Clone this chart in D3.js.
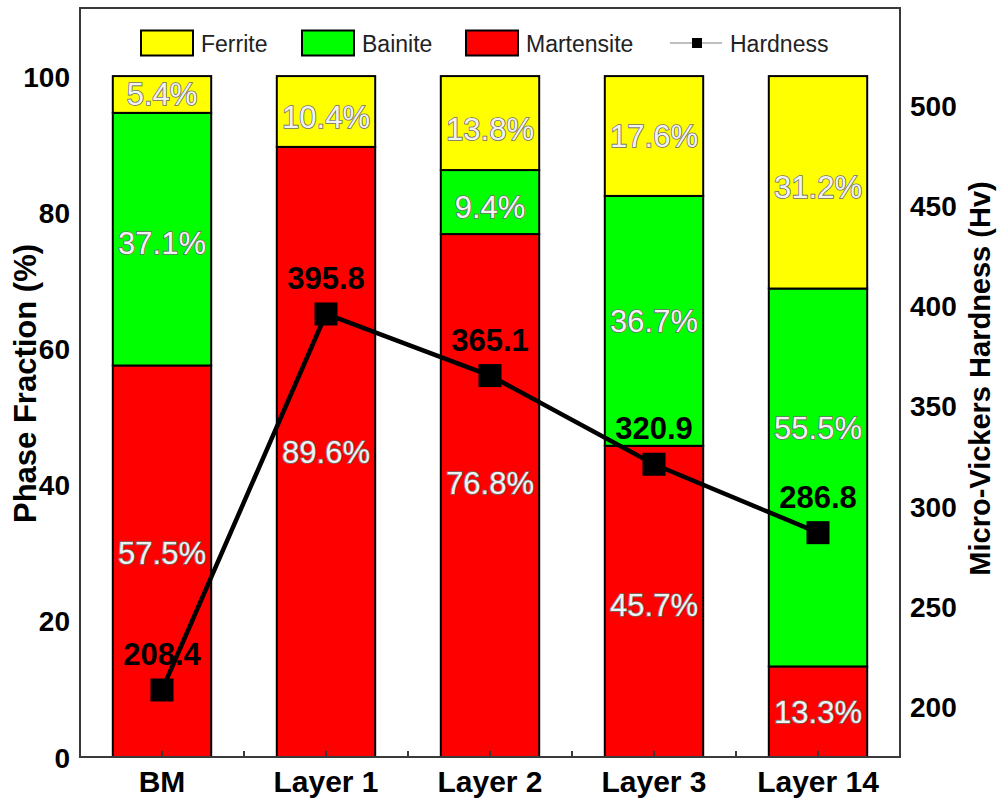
<!DOCTYPE html>
<html>
<head>
<meta charset="utf-8">
<script src="https://cdn.jsdelivr.net/npm/d3@7"></script>
<style>
  html, body { margin: 0; padding: 0; background: #fff; }
  svg { display: block; font-family: "Liberation Sans", Arial, sans-serif; }
</style>
</head>
<body>
<svg id="chart" width="1000" height="804"></svg>
<script>
// Samples and their phase fractions (%)
const categories = ["BM", "Layer 1", "Layer 2", "Layer 3", "Layer 14"];
const martensite = [57.5, 89.6, 76.8, 45.7, 13.3];
const bainite    = [37.1, 0.0, 9.4, 36.7, 55.5];
const ferrite    = [5.4, 10.4, 13.8, 17.6, 31.2];
// Micro-Vickers hardness (Hv)
const hardness   = [208.4, 395.8, 365.1, 320.9, 286.8];

const leftTicks  = [0, 20, 40, 60, 80, 100];
const rightTicks = [200, 250, 300, 350, 400, 450, 500];

const phases = [
  { key: "Martensite", values: martensite, color: "#ff0000" },
  { key: "Bainite",    values: bainite,    color: "#00ff00" },
  { key: "Ferrite",    values: ferrite,    color: "#ffff00" }
];

const svg = d3.select("#chart");
const m = { left: 80, right: 100, top: 8, bottom: 47 };
const W = 1000, H = 804;
const x0 = m.left, x1 = W - m.right, y0 = H - m.bottom, y1 = m.top;

const x = d3.scaleBand().domain(categories).range([x0, x1]).paddingInner(0.4).paddingOuter(0.2);
const yL = d3.scaleLinear().domain([0, 110]).range([y0, y1]);
const yR = d3.scaleLinear().domain([175, 548.3]).range([y0, y1]);

// stacked bars
const rows = categories.map((c, i) => {
  const r = { cat: c };
  phases.forEach(p => r[p.key] = p.values[i]);
  return r;
});
const stack = d3.stack().keys(phases.map(p => p.key))(rows);

const gBars = svg.append("g");
stack.forEach((layer, li) => {
  const ph = phases[li];
  layer.forEach(seg => {
    const v = seg[1] - seg[0];
    if (v <= 0) return;
    const cx = x(seg.data.cat);
    gBars.append("rect")
      .attr("x", cx).attr("width", x.bandwidth())
      .attr("y", yL(seg[1])).attr("height", yL(seg[0]) - yL(seg[1]))
      .attr("fill", ph.color).attr("stroke", "#000").attr("stroke-width", 2);
  });
});

// percentage labels, near the middle of each segment; a few are nudged
// (pixels) so they stay clear of the hardness line and its labels
const labelNudge = {
  "BM|Bainite": 4, "BM|Martensite": -8,
  "Layer 1|Ferrite": 6,
  "Layer 2|Ferrite": 6, "Layer 2|Bainite": 5, "Layer 2|Martensite": -13,
  "Layer 3|Martensite": 4,
  "Layer 14|Ferrite": 5, "Layer 14|Bainite": -49
};
const gPct = svg.append("g");
stack.forEach((layer, li) => {
  layer.forEach(seg => {
    const v = seg[1] - seg[0];
    if (v <= 0) return;
    const mid = (yL(seg[0]) + yL(seg[1])) / 2;
    const nudge = labelNudge[seg.data.cat + "|" + layer.key] || 0;
    gPct.append("text")
      .attr("x", x(seg.data.cat) + x.bandwidth() / 2)
      .attr("y", mid + nudge + 11)
      .attr("text-anchor", "middle")
      .attr("font-size", 31)
      .attr("fill", "#f2f2f2")
      .attr("stroke", "#6e6e6e")
      .attr("stroke-width", 1.6)
      .attr("paint-order", "stroke")
      .text(v.toFixed(1) + "%");
  });
});

// plot frame
svg.append("rect")
  .attr("x", x0).attr("y", y1).attr("width", x1 - x0).attr("height", y0 - y1)
  .attr("fill", "none").attr("stroke", "#3a3a3a").attr("stroke-width", 2);

// bottom ticks (inward), at centres and between bands
const tickXs = [];
categories.forEach(c => {
  tickXs.push(x(c) + x.bandwidth() / 2);
});
for (let i = 1; i < categories.length; i++) {
  tickXs.push((x(categories[i - 1]) + x(categories[i]) + x.bandwidth()) / 2);
}
svg.append("g").selectAll("line").data(tickXs).join("line")
  .attr("x1", d => d).attr("x2", d => d)
  .attr("y1", y0).attr("y2", y0 - 6)
  .attr("stroke", "#3a3a3a").attr("stroke-width", 2);

// axes via d3 axis generators (tick lines hidden)
const axL = svg.append("g").attr("transform", `translate(${x0},0)`)
  .call(d3.axisLeft(yL).tickValues(leftTicks).tickSize(0).tickPadding(10));
const axR = svg.append("g").attr("transform", `translate(${x1},0)`)
  .call(d3.axisRight(yR).tickValues(rightTicks).tickSize(0).tickPadding(10));
const axB = svg.append("g").attr("transform", `translate(0,${y0})`)
  .call(d3.axisBottom(x).tickSize(0).tickPadding(12));
[axL, axR, axB].forEach(a => {
  a.select(".domain").remove();
  a.selectAll("text")
    .attr("font-family", "Liberation Sans, Arial, sans-serif")
    .attr("font-weight", "bold").attr("fill", "#000");
});
axL.selectAll("text").attr("font-size", 28).attr("dy", "0.36em");
axR.selectAll("text").attr("font-size", 28).attr("dy", "0.36em");
axB.selectAll("text").attr("font-size", 30).attr("dy", "0.78em");

// axis titles
svg.append("text")
  .attr("transform", `translate(36,${(y0 + y1) / 2 + 1}) rotate(-90)`)
  .attr("text-anchor", "middle").attr("font-size", 31).attr("font-weight", "bold")
  .text("Phase Fraction (%)");
svg.append("text")
  .attr("transform", `translate(990,${(y0 + y1) / 2 - 4}) rotate(-90)`)
  .attr("text-anchor", "middle").attr("font-size", 29).attr("font-weight", "bold")
  .text("Micro-Vickers Hardness (Hv)");

// hardness line + markers
const cxOf = i => x(categories[i]) + x.bandwidth() / 2;
const line = d3.line().x((d, i) => cxOf(i)).y(d => yR(d));
svg.append("path").datum(hardness)
  .attr("d", line).attr("fill", "none").attr("stroke", "#000").attr("stroke-width", 4.5);
const ms = 23;
svg.append("g").selectAll("rect").data(hardness).join("rect")
  .attr("x", (d, i) => cxOf(i) - ms / 2).attr("y", d => yR(d) - ms / 2)
  .attr("width", ms).attr("height", ms).attr("fill", "#000");
svg.append("g").selectAll("text").data(hardness).join("text")
  .attr("x", (d, i) => cxOf(i)).attr("y", d => yR(d) - 25)
  .attr("text-anchor", "middle").attr("font-size", 31).attr("font-weight", "bold")
  .attr("fill", "#000")
  .text(d => d.toFixed(1));

// legend
const leg = svg.append("g");
const legItems = [
  { label: "Ferrite", color: "#ffff00", x: 141 },
  { label: "Bainite", color: "#00ff00", x: 302 },
  { label: "Martensite", color: "#ff0000", x: 466 }
];
const ly = 43;
legItems.forEach(it => {
  leg.append("rect").attr("x", it.x).attr("y", ly - 12.5).attr("width", 52).attr("height", 25)
    .attr("fill", it.color).attr("stroke", "#000").attr("stroke-width", 2);
  leg.append("text").attr("x", it.x + 60).attr("y", ly + 8.5)
    .attr("font-size", 23).attr("fill", "#222").text(it.label);
});
leg.append("line").attr("x1", 670).attr("x2", 722).attr("y1", ly).attr("y2", ly)
  .attr("stroke", "#aaa").attr("stroke-width", 1.5);
leg.append("rect").attr("x", 692).attr("y", ly - 5).attr("width", 10).attr("height", 10).attr("fill", "#000");
leg.append("text").attr("x", 730).attr("y", ly + 8.5)
  .attr("font-size", 23).attr("fill", "#222").text("Hardness");
</script>
</body>
</html>
